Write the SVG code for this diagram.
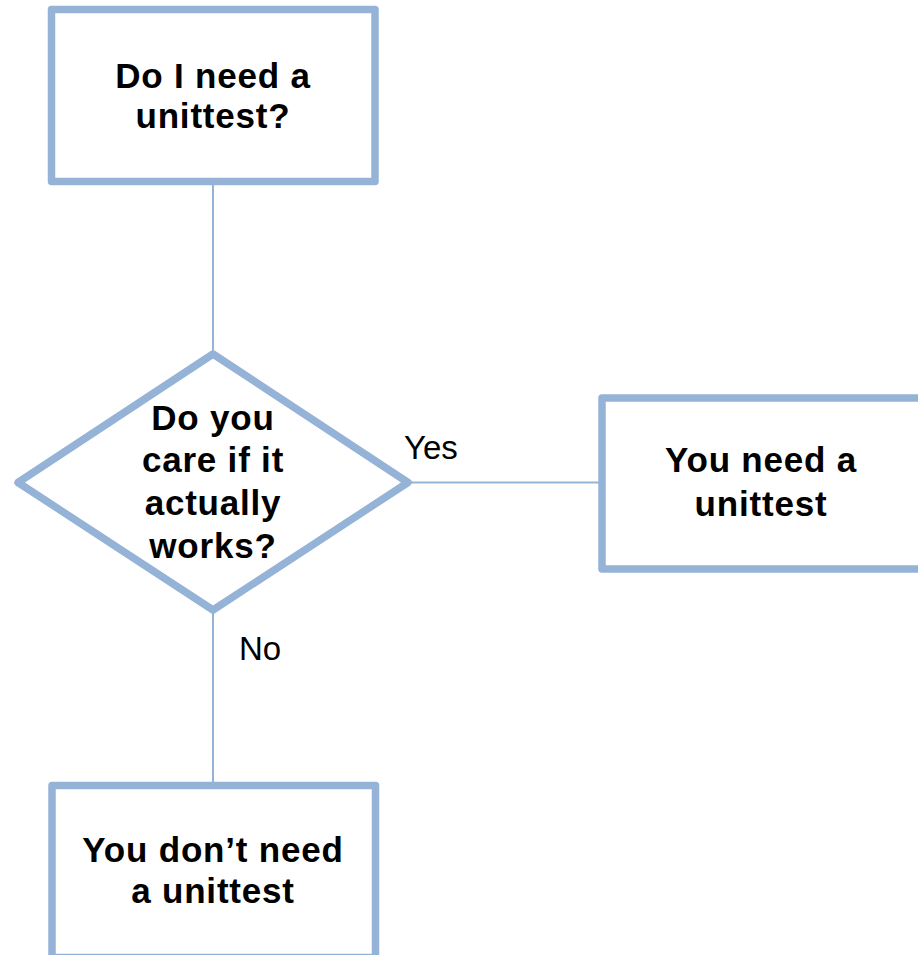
<svg xmlns="http://www.w3.org/2000/svg" width="918" height="955" viewBox="0 0 918 955">
<style>
.box{fill:#fff;stroke:#95b3d7;stroke-width:7.5;stroke-linejoin:round}
.conn{stroke:#95b3d7;stroke-width:2;fill:none}
.t{font-family:"Liberation Sans",Arial,sans-serif;font-weight:bold;font-size:35px;letter-spacing:0.8px;fill:#000;text-anchor:middle}
.lbl{font-family:"Liberation Sans",Arial,sans-serif;font-size:33px;fill:#000}
</style>
<rect width="918" height="955" fill="#fff"/>
<g id="connectors">
<line class="conn" x1="213" y1="185" x2="213" y2="354"/>
<line class="conn" x1="408" y1="482.5" x2="600" y2="482.5"/>
<line class="conn" x1="213" y1="610" x2="213" y2="785"/>
<text class="lbl" x="404" y="459">Yes</text>
<text class="lbl" x="239" y="660">No</text>
</g>
<g id="start">
<rect class="box" x="51.5" y="9.5" width="323.5" height="172"/>
<text class="t" x="213" y="88">Do I need a</text>
<text class="t" x="213" y="128">unittest?</text>
</g>
<g id="decision">
<polygon class="box" points="213,354 408,482.5 213,610 18,482.5" stroke-width="6.5"/>
<text class="t" x="213" y="430">Do you</text>
<text class="t" x="213" y="472">care if it</text>
<text class="t" x="213" y="515">actually</text>
<text class="t" x="213" y="558">works?</text>
</g>
<g id="yes">
<rect class="box" x="602" y="398" width="322" height="171"/>
<text class="t" x="761" y="472">You need a</text>
<text class="t" x="761" y="516">unittest</text>
</g>
<g id="no">
<rect class="box" x="52" y="785.5" width="323.5" height="172"/>
<text class="t" x="213" y="862">You don’t need</text>
<text class="t" x="213" y="903">a unittest</text>
</g>
</svg>
